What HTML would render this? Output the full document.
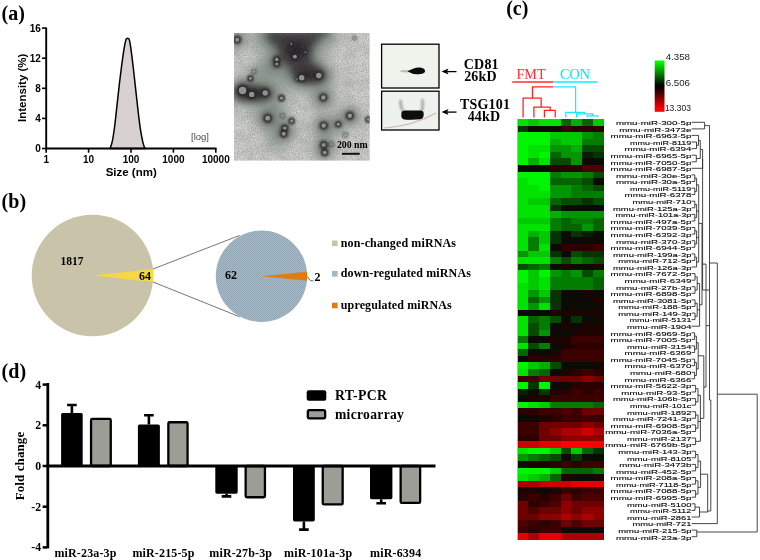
<!DOCTYPE html>
<html lang="en"><head><meta charset="utf-8"><title>Figure</title>
<style>html,body{margin:0;padding:0;background:#fff;}body{width:760px;height:560px;overflow:hidden;}svg{display:block;}.sb{font-family:"Liberation Serif", "DejaVu Serif", serif;font-weight:bold;}.ss{font-family:"Liberation Sans", "DejaVu Sans", sans-serif;font-weight:bold;}.sr{font-family:"Liberation Serif", "DejaVu Serif", serif;}.sn{font-family:"Liberation Sans", "DejaVu Sans", sans-serif;}</style>
</head><body>
<svg width="760" height="560" viewBox="0 0 760 560">
<defs>
<filter id="b8" x="-50%" y="-50%" width="200%" height="200%"><feGaussianBlur stdDeviation="7"/></filter>
<filter id="b4" x="-50%" y="-50%" width="200%" height="200%"><feGaussianBlur stdDeviation="4"/></filter>
<filter id="b2" x="-50%" y="-50%" width="200%" height="200%"><feGaussianBlur stdDeviation="1.6"/></filter>
<filter id="b15" x="-50%" y="-50%" width="200%" height="200%"><feGaussianBlur stdDeviation="1.1"/></filter>
<filter id="b1" x="-50%" y="-50%" width="200%" height="200%"><feGaussianBlur stdDeviation="0.7"/></filter>
<filter id="b05" x="-50%" y="-50%" width="200%" height="200%"><feGaussianBlur stdDeviation="0.55"/></filter>
<filter id="noise" x="0" y="0" width="100%" height="100%"><feTurbulence type="fractalNoise" baseFrequency="0.8" numOctaves="2" seed="3" result="n"/><feColorMatrix type="matrix" values="0 0 0 0 0.25  0 0 0 0 0.25  0 0 0 0 0.25  2.2 0 0 0 -0.75"/></filter>
<filter id="noise2" x="0" y="0" width="100%" height="100%"><feTurbulence type="fractalNoise" baseFrequency="0.09" numOctaves="3" seed="8" result="n"/><feColorMatrix type="matrix" values="0 0 0 0 0.35  0 0 0 0 0.38  0 0 0 0 0.35  1.6 0 0 0 -0.62"/></filter>
<clipPath id="temclip"><rect x="234" y="33" width="135.6" height="127.5"/></clipPath>
<clipPath id="wb1"><rect x="381" y="44" width="58" height="44"/></clipPath>
<clipPath id="wb2"><rect x="381" y="91" width="58" height="39"/></clipPath>
<linearGradient id="scale" x1="0" y1="0" x2="0" y2="1"><stop offset="0" stop-color="#00ff00"/><stop offset="0.05" stop-color="#00f200"/><stop offset="0.47" stop-color="#000800"/><stop offset="0.52" stop-color="#080000"/><stop offset="0.93" stop-color="#f80000"/><stop offset="1" stop-color="#ff0000"/></linearGradient>
<pattern id="dots" width="2" height="2" patternUnits="userSpaceOnUse"><rect width="2" height="2" fill="#a3b7c4"/><rect width="1" height="1" fill="#93a9b8"/><rect x="1" y="1" width="1" height="1" fill="#93a9b8"/></pattern>
</defs>
<rect width="760" height="560" fill="#ffffff"/>
<text class="sb" x="1.6" y="20.3" font-size="20">(a)</text>
<text class="sb" x="1.6" y="207.6" font-size="20">(b)</text>
<text class="sb" x="506.2" y="15.3" font-size="20">(c)</text>
<text class="sb" x="1.6" y="378.3" font-size="20">(d)</text>
<g id="pa">
<path d="M110.08 148.51 C110.47 147.23 111.63 144.64 112.40 140.85 C113.17 137.06 113.95 131.76 114.72 125.77 C115.49 119.77 116.27 111.85 117.04 104.89 C117.82 97.93 118.59 90.58 119.36 84.00 C120.14 77.43 120.91 71.24 121.68 65.44 C122.46 59.64 123.31 53.46 124.00 49.20 C124.70 44.95 125.39 41.70 125.86 39.92 C126.32 38.14 126.40 38.76 126.79 38.53 C127.17 38.30 127.75 38.30 128.18 38.53 C128.60 38.76 128.87 38.14 129.34 39.92 C129.80 41.70 130.31 44.56 130.96 49.20 C131.62 53.84 132.51 61.19 133.28 67.76 C134.06 74.34 134.83 81.68 135.60 88.65 C136.38 95.61 137.15 102.95 137.92 109.53 C138.70 116.10 139.47 122.87 140.24 128.09 C141.02 133.31 141.91 137.76 142.56 140.85 C143.22 143.94 143.69 145.37 144.19 146.65 C144.69 147.93 145.35 148.20 145.58 148.51 Z" fill="#d9d0d0" stroke="#000" stroke-width="1.5" stroke-linejoin="round"/>
<path d="M46.2 27.4 V148.5 H216.6" fill="none" stroke="#000" stroke-width="1.9"/>
<line x1="42.0" x2="46.2" y1="148.50" y2="148.50" stroke="#000" stroke-width="1.6"/>
<text class="ss" x="40.9" y="152.10" font-size="10" text-anchor="end">0</text>
<line x1="42.0" x2="46.2" y1="118.40" y2="118.40" stroke="#000" stroke-width="1.6"/>
<text class="ss" x="40.9" y="122.00" font-size="10" text-anchor="end">4</text>
<line x1="42.0" x2="46.2" y1="88.30" y2="88.30" stroke="#000" stroke-width="1.6"/>
<text class="ss" x="40.9" y="91.90" font-size="10" text-anchor="end">8</text>
<line x1="42.0" x2="46.2" y1="58.20" y2="58.20" stroke="#000" stroke-width="1.6"/>
<text class="ss" x="40.9" y="61.80" font-size="10" text-anchor="end">12</text>
<line x1="42.0" x2="46.2" y1="28.10" y2="28.10" stroke="#000" stroke-width="1.6"/>
<text class="ss" x="40.9" y="31.70" font-size="10" text-anchor="end">16</text>
<line x1="46.20" x2="46.20" y1="148.5" y2="152.7" stroke="#000" stroke-width="1.6"/>
<text class="ss" x="46.20" y="163.0" font-size="10" text-anchor="middle">1</text>
<line x1="88.60" x2="88.60" y1="148.5" y2="152.7" stroke="#000" stroke-width="1.6"/>
<text class="ss" x="88.60" y="163.0" font-size="10" text-anchor="middle">10</text>
<line x1="131.00" x2="131.00" y1="148.5" y2="152.7" stroke="#000" stroke-width="1.6"/>
<text class="ss" x="131.00" y="163.0" font-size="10" text-anchor="middle">100</text>
<line x1="173.40" x2="173.40" y1="148.5" y2="152.7" stroke="#000" stroke-width="1.6"/>
<text class="ss" x="173.40" y="163.0" font-size="10" text-anchor="middle">1000</text>
<line x1="215.80" x2="215.80" y1="148.5" y2="152.7" stroke="#000" stroke-width="1.6"/>
<text class="ss" x="215.80" y="163.0" font-size="10" text-anchor="middle">10000</text>
<text class="ss" x="131.2" y="176.2" font-size="11.5" text-anchor="middle">Size (nm)</text>
<text class="ss" transform="translate(25.6 87.8) rotate(-90)" font-size="11.5" text-anchor="middle">Intensity (%)</text>
<text class="sn" x="200" y="140" font-size="9.5" text-anchor="middle" fill="#4a4a4a">[log]</text>
</g>
<g id="tem" clip-path="url(#temclip)">
<rect x="234" y="33" width="136" height="128" fill="#d6d6d4"/>
<g filter="url(#b8)" fill="#7f9083" opacity="0.9">
<ellipse cx="294" cy="38" rx="44" ry="16"/>
<ellipse cx="294" cy="58" rx="30" ry="20"/>
<ellipse cx="306" cy="76" rx="30" ry="15"/>
<ellipse cx="277" cy="62" rx="14" ry="13"/>
<ellipse cx="253" cy="92" rx="30" ry="14"/>
<ellipse cx="237" cy="40" rx="9" ry="9"/>
<ellipse cx="320" cy="33" rx="16" ry="7"/>
<ellipse cx="268" cy="118" rx="14" ry="13"/>
<ellipse cx="284" cy="130" rx="12" ry="14"/>
<ellipse cx="323" cy="98" rx="12" ry="11"/>
<ellipse cx="324" cy="126" rx="11" ry="11"/>
<ellipse cx="350" cy="116" rx="11" ry="10"/>
<ellipse cx="338" cy="124" rx="8" ry="8"/>
<ellipse cx="324" cy="148" rx="10" ry="14"/>
<ellipse cx="274" cy="105" rx="12" ry="12"/>
<ellipse cx="262" cy="72" rx="14" ry="10"/>
<ellipse cx="275" cy="140" rx="8" ry="10"/>
</g>
<rect x="234" y="33" width="136" height="128" filter="url(#noise2)" opacity="0.5"/>
<rect x="234" y="33" width="136" height="128" filter="url(#noise)" opacity="0.4"/>
<g filter="url(#b4)" fill="#383336" opacity="0.93">
<path d="M263.0 30.6 L326.4 30.6 L317.4 41.6 L311.9 48.9 L310.1 58.1 L317.4 65.4 L324.6 70.9 L326.4 76.4 L321.0 81.9 L304.7 82.8 L295.6 81.0 L290.2 72.7 L286.5 65.4 L282.0 58.1 L277.5 48.9 L268.4 41.6 Z"/>
<ellipse cx="277" cy="62" rx="5.5" ry="6.5"/>
<ellipse cx="254" cy="93.5" rx="20" ry="7"/>
<ellipse cx="243" cy="91" rx="9" ry="8"/>
<ellipse cx="320" cy="32" rx="11" ry="4"/>
<ellipse cx="237" cy="39" rx="4.5" ry="4.5"/>
<ellipse cx="268" cy="118" rx="5.5" ry="5.5"/>
<ellipse cx="284" cy="131" rx="4.5" ry="6.5"/>
<ellipse cx="323" cy="98" rx="4.5" ry="4.5"/>
<ellipse cx="324" cy="126" rx="4.5" ry="4.5"/>
<ellipse cx="350" cy="116" rx="4.5" ry="4.5"/>
<ellipse cx="324" cy="148" rx="3.5" ry="6.5"/>
<ellipse cx="338" cy="124" rx="3" ry="3"/>
</g>
<g filter="url(#b4)" fill="#1d191b" opacity="0.8"><ellipse cx="310" cy="76" rx="14" ry="5"/><ellipse cx="252" cy="93.5" rx="16" ry="5"/><ellipse cx="296" cy="50" rx="12" ry="8"/></g>
<rect x="234" y="33" width="136" height="128" filter="url(#noise)" opacity="0.2"/>
<g filter="url(#b15)">
<circle cx="237.2" cy="39.8" r="4.07" fill="#2a2628" opacity="0.85"/>
<circle cx="276.8" cy="59.5" r="3.81" fill="#2a2628" opacity="0.85"/>
<circle cx="276.8" cy="64.1" r="3.55" fill="#2a2628" opacity="0.85"/>
<circle cx="294.9" cy="56.6" r="4.07" fill="#2a2628" opacity="0.85"/>
<circle cx="291.3" cy="43.7" r="2.91" fill="#2a2628" opacity="0.40"/>
<circle cx="301.7" cy="77.8" r="4.85" fill="#2a2628" opacity="0.85"/>
<circle cx="318.8" cy="75.5" r="4.85" fill="#2a2628" opacity="0.85"/>
<circle cx="254.0" cy="71.6" r="3.17" fill="#2a2628" opacity="0.40"/>
<circle cx="250.4" cy="78.4" r="3.42" fill="#2a2628" opacity="0.85"/>
<circle cx="242.6" cy="90.5" r="5.89" fill="#2a2628" opacity="0.85"/>
<circle cx="251.7" cy="94.4" r="4.85" fill="#2a2628" opacity="0.85"/>
<circle cx="265.2" cy="92.9" r="4.85" fill="#2a2628" opacity="0.85"/>
<circle cx="281.5" cy="98.1" r="3.81" fill="#2a2628" opacity="0.85"/>
<circle cx="323.4" cy="97.5" r="4.33" fill="#2a2628" opacity="0.85"/>
<circle cx="267.7" cy="118.3" r="4.59" fill="#2a2628" opacity="0.85"/>
<circle cx="282.5" cy="115.7" r="3.17" fill="#2a2628" opacity="0.40"/>
<circle cx="291.6" cy="120.9" r="3.55" fill="#2a2628" opacity="0.85"/>
<circle cx="284.8" cy="128.1" r="3.81" fill="#2a2628" opacity="0.85"/>
<circle cx="283.8" cy="133.8" r="4.07" fill="#2a2628" opacity="0.85"/>
<circle cx="349.9" cy="115.7" r="4.33" fill="#2a2628" opacity="0.85"/>
<circle cx="323.7" cy="125.5" r="4.33" fill="#2a2628" opacity="0.85"/>
<circle cx="338.2" cy="124.2" r="3.55" fill="#2a2628" opacity="0.85"/>
<circle cx="345.5" cy="135.1" r="3.30" fill="#2a2628" opacity="0.40"/>
<circle cx="323.7" cy="144.9" r="4.07" fill="#2a2628" opacity="0.85"/>
<circle cx="324.7" cy="152.5" r="3.94" fill="#2a2628" opacity="0.85"/>
<circle cx="331.2" cy="144.2" r="3.17" fill="#2a2628" opacity="0.40"/>
<circle cx="368.3" cy="119.6" r="3.55" fill="#2a2628" opacity="0.85"/>
<circle cx="305.3" cy="52.2" r="2.78" fill="#2a2628" opacity="0.40"/>
<circle cx="297.0" cy="78.9" r="2.78" fill="#2a2628" opacity="0.40"/>
<circle cx="354.5" cy="38.0" r="3.04" fill="#2a2628" opacity="0.40"/>
</g>
<g filter="url(#b05)">
<circle cx="237.2" cy="39.8" r="1.97" fill="#a4b0a5" opacity="0.8"/>
<circle cx="276.8" cy="59.5" r="1.72" fill="#a4b0a5" opacity="0.8"/>
<circle cx="276.8" cy="64.1" r="1.48" fill="#a4b0a5" opacity="0.8"/>
<circle cx="294.9" cy="56.6" r="1.97" fill="#a4b0a5" opacity="0.8"/>
<circle cx="291.3" cy="43.7" r="0.86" fill="#a4b0a5" opacity="0.8"/>
<circle cx="301.7" cy="77.8" r="2.71" fill="#a4b0a5" opacity="0.8"/>
<circle cx="318.8" cy="75.5" r="2.71" fill="#a4b0a5" opacity="0.8"/>
<circle cx="254.0" cy="71.6" r="1.11" fill="#a4b0a5" opacity="0.8"/>
<circle cx="250.4" cy="78.4" r="1.35" fill="#a4b0a5" opacity="0.8"/>
<circle cx="242.6" cy="90.5" r="3.69" fill="#a4b0a5" opacity="0.8"/>
<circle cx="251.7" cy="94.4" r="2.71" fill="#a4b0a5" opacity="0.8"/>
<circle cx="265.2" cy="92.9" r="2.71" fill="#a4b0a5" opacity="0.8"/>
<circle cx="281.5" cy="98.1" r="1.72" fill="#a4b0a5" opacity="0.8"/>
<circle cx="323.4" cy="97.5" r="2.22" fill="#a4b0a5" opacity="0.8"/>
<circle cx="267.7" cy="118.3" r="2.46" fill="#a4b0a5" opacity="0.8"/>
<circle cx="282.5" cy="115.7" r="1.11" fill="#a4b0a5" opacity="0.8"/>
<circle cx="291.6" cy="120.9" r="1.48" fill="#a4b0a5" opacity="0.8"/>
<circle cx="284.8" cy="128.1" r="1.72" fill="#a4b0a5" opacity="0.8"/>
<circle cx="283.8" cy="133.8" r="1.97" fill="#a4b0a5" opacity="0.8"/>
<circle cx="349.9" cy="115.7" r="2.22" fill="#a4b0a5" opacity="0.8"/>
<circle cx="323.7" cy="125.5" r="2.22" fill="#a4b0a5" opacity="0.8"/>
<circle cx="338.2" cy="124.2" r="1.48" fill="#a4b0a5" opacity="0.8"/>
<circle cx="345.5" cy="135.1" r="1.23" fill="#a4b0a5" opacity="0.8"/>
<circle cx="323.7" cy="144.9" r="1.97" fill="#a4b0a5" opacity="0.8"/>
<circle cx="324.7" cy="152.5" r="1.85" fill="#a4b0a5" opacity="0.8"/>
<circle cx="331.2" cy="144.2" r="1.11" fill="#a4b0a5" opacity="0.8"/>
<circle cx="368.3" cy="119.6" r="1.48" fill="#a4b0a5" opacity="0.8"/>
<circle cx="305.3" cy="52.2" r="0.74" fill="#a4b0a5" opacity="0.8"/>
<circle cx="297.0" cy="78.9" r="0.74" fill="#a4b0a5" opacity="0.8"/>
<circle cx="354.5" cy="38.0" r="0.98" fill="#a4b0a5" opacity="0.8"/>
</g>
</g>
<text class="sb" x="352.3" y="148" font-size="9.8" text-anchor="middle">200 nm</text>
<rect x="342" y="152.8" width="17.7" height="2" fill="#111"/>
<g id="wb">
<rect x="381" y="44" width="58" height="44" fill="#eef3ec"/>
<rect x="381" y="91" width="58" height="39" fill="#eef2ec"/>
<g clip-path="url(#wb1)">
<ellipse cx="406" cy="71.2" rx="6" ry="1.3" fill="#a08c8c" filter="url(#b1)" opacity="0.55"/>
<path d="M407.5 71.2 C411 69.3 415 67.3 419.5 67.4 C424 67.6 425.5 70 425 71.6 C424.5 73.8 420 74.6 416.5 74.3 C412.5 73.9 410 72.7 407.5 71.2 Z" fill="#0a0a0a" filter="url(#b1)"/>
</g>
<g clip-path="url(#wb2)">
<path d="M384 128 C400 127 420 122 436 113" stroke="#c9a8aa" stroke-width="1.2" fill="none" filter="url(#b1)" opacity="0.8"/>
<path d="M400.5 100 C400.5 106 402 110 404 112 M422.5 99 C423 106 422.5 110 421 112" stroke="#8a8a8a" stroke-width="2.8" fill="none" filter="url(#b15)" opacity="0.7"/>
<path d="M401.5 113 C401.5 110.5 405 110.3 412 110.6 C418 110.6 423 109.5 423.5 112.5 C424 116 423.5 119 420 119.3 C414 119.8 407 120 403.5 119.2 C401 118.5 401.3 115.5 401.5 113 Z" fill="#070707" filter="url(#b1)"/>
</g>
<rect x="381.6" y="44.2" width="57.4" height="43.8" fill="none" stroke="#000" stroke-width="1.3"/>
<rect x="381.6" y="91.2" width="57.4" height="38.8" fill="none" stroke="#000" stroke-width="1.3"/>
<path d="M456.5 71.6 H446" stroke="#000" stroke-width="1.3" fill="none"/>
<path d="M441.5 71.6 L448.5 68.6 L447 71.6 L448.5 74.6 Z" fill="#000"/>
<path d="M456.5 112.1 H446" stroke="#000" stroke-width="1.3" fill="none"/>
<path d="M441.5 112.1 L448.5 109.1 L447 112.1 L448.5 115.1 Z" fill="#000"/>
<text class="sb" x="481.3" y="68.5" font-size="14" text-anchor="middle" letter-spacing="0.2">CD81</text>
<text class="sb" x="480.5" y="81.2" font-size="14" text-anchor="middle" letter-spacing="0.2">26kD</text>
<text class="sb" x="485" y="109" font-size="14" text-anchor="middle" letter-spacing="0.2">TSG101</text>
<text class="sb" x="484" y="120.6" font-size="14" text-anchor="middle" letter-spacing="0.2">44kD</text>
</g>
<g id="pb">
<circle cx="92.5" cy="275.5" r="60.8" fill="#c8c3a9"/>
<path d="M92.5 275.5 L152.96 269.04 A60.8 60.8 0 0 1 152.96 281.96 Z" fill="#f6d842"/>
<path d="M152.96 269.04 L239.7 235.4 M152.96 281.96 L239.7 316.8" stroke="#666" stroke-width="0.9" fill="none"/>
<circle cx="261.5" cy="276.2" r="45.7" fill="url(#dots)"/>
<path d="M261.5 276.2 L306.98 271.74 A45.7 45.7 0 0 1 306.98 280.66 Z" fill="#e07c12"/>
<path d="M307.4 276.6 L310.5 280.8 H313.5" stroke="#444" stroke-width="0.8" fill="none"/>
<text class="sb" x="72" y="265" font-size="11.5" text-anchor="middle">1817</text>
<text class="sb" x="145" y="280" font-size="12" text-anchor="middle">64</text>
<text class="sb" x="231" y="279" font-size="12" text-anchor="middle">62</text>
<text class="sb" x="317.5" y="281" font-size="12" text-anchor="middle">2</text>
<rect x="332" y="240.5" width="5.6" height="5.6" fill="#c8c3a9"/>
<text class="sb" x="340.8" y="246.9" font-size="12" letter-spacing="0.13">non-changed miRNAs</text>
<rect x="332" y="271.0" width="5.6" height="5.6" fill="#a3b7c4"/>
<text class="sb" x="340.8" y="277.4" font-size="12" letter-spacing="0.13">down-regulated miRNAs</text>
<rect x="332" y="302.7" width="5.6" height="5.6" fill="#e07c12"/>
<text class="sb" x="340.8" y="309.1" font-size="12" letter-spacing="0.13">upregulated miRNAs</text>
</g>
<g id="pd">
<path d="M71.9 412.9 V405.0 M67.1 405.0 H76.7" stroke="#000" stroke-width="2.6" fill="none"/>
<rect x="61.1" y="412.9" width="21.6" height="53.1" fill="#000" rx="1.6"/>
<rect x="91.05" y="418.95" width="19.70" height="47.05" fill="#9d9d95" stroke="#000" stroke-width="2.3" rx="1.2"/>
<path d="M148.9 424.6 V415.2 M144.1 415.2 H153.7" stroke="#000" stroke-width="2.6" fill="none"/>
<rect x="137.9" y="424.6" width="22.0" height="41.4" fill="#000" rx="1.6"/>
<rect x="168.35" y="422.25" width="19.20" height="43.75" fill="#9d9d95" stroke="#000" stroke-width="2.3" rx="1.2"/>
<path d="M226.5 493.7 V496.4 M221.7 496.4 H231.3" stroke="#000" stroke-width="2.6" fill="none"/>
<rect x="215.3" y="466.0" width="22.4" height="27.7" fill="#000" rx="1.6"/>
<rect x="245.65" y="466.00" width="19.30" height="31.25" fill="#9d9d95" stroke="#000" stroke-width="2.3" rx="1.2"/>
<path d="M303.9 521.4 V529.6 M299.1 529.6 H308.7" stroke="#000" stroke-width="2.6" fill="none"/>
<rect x="293.0" y="466.0" width="21.8" height="55.4" fill="#000" rx="1.6"/>
<rect x="322.75" y="466.00" width="19.90" height="38.45" fill="#9d9d95" stroke="#000" stroke-width="2.3" rx="1.2"/>
<path d="M381.2 499.2 V503.2 M376.4 503.2 H386.0" stroke="#000" stroke-width="2.6" fill="none"/>
<rect x="370.0" y="466.0" width="22.4" height="33.2" fill="#000" rx="1.6"/>
<rect x="400.65" y="466.00" width="19.50" height="36.85" fill="#9d9d95" stroke="#000" stroke-width="2.3" rx="1.2"/>
<path d="M47.8 383.0 V548.4" stroke="#000" stroke-width="2.8" fill="none"/>
<path d="M46.4 466.0 H435.5" stroke="#000" stroke-width="2.8" fill="none"/>
<line x1="42.6" x2="47.0" y1="384.6" y2="384.6" stroke="#000" stroke-width="2.5"/>
<text class="sb" x="41.2" y="388.5" font-size="11.8" text-anchor="end">4</text>
<line x1="42.6" x2="47.0" y1="425.3" y2="425.3" stroke="#000" stroke-width="2.5"/>
<text class="sb" x="41.2" y="429.2" font-size="11.8" text-anchor="end">2</text>
<line x1="42.6" x2="47.0" y1="466.0" y2="466.0" stroke="#000" stroke-width="2.5"/>
<text class="sb" x="41.2" y="469.9" font-size="11.8" text-anchor="end">0</text>
<line x1="42.6" x2="47.0" y1="506.7" y2="506.7" stroke="#000" stroke-width="2.5"/>
<text class="sb" x="41.2" y="510.6" font-size="11.8" text-anchor="end">-2</text>
<line x1="42.6" x2="47.0" y1="547.4" y2="547.4" stroke="#000" stroke-width="2.5"/>
<text class="sb" x="41.2" y="551.3" font-size="11.8" text-anchor="end">-4</text>
<text class="sb" transform="translate(23.7 466) rotate(-90)" font-size="13" text-anchor="middle" letter-spacing="0.1">Fold change</text>
<text class="sb" x="85.5" y="557" font-size="12" text-anchor="middle" letter-spacing="0.15">miR-23a-3p</text>
<text class="sb" x="163.5" y="557" font-size="12" text-anchor="middle" letter-spacing="0.15">miR-215-5p</text>
<text class="sb" x="240.7" y="557" font-size="12" text-anchor="middle" letter-spacing="0.15">miR-27b-3p</text>
<text class="sb" x="318.2" y="557" font-size="12" text-anchor="middle" letter-spacing="0.15">miR-101a-3p</text>
<text class="sb" x="395.7" y="557" font-size="12" text-anchor="middle" letter-spacing="0.15">miR-6394</text>
<rect x="306.7" y="390.2" width="19.6" height="10.6" fill="#000" rx="2"/>
<rect x="307.85" y="410.15" width="17.3" height="8.2" fill="#9d9d95" stroke="#000" stroke-width="2.3" rx="1.5"/>
<text class="sb" x="335" y="400.2" font-size="13.8" letter-spacing="0.3">RT-PCR</text>
<text class="sb" x="335" y="418.6" font-size="13.6" letter-spacing="0.3">microarray</text>
</g>
<g id="pc">
<text class="sr" x="531" y="78.6" font-size="14.2" text-anchor="middle" fill="#ff2d2d">FMT</text>
<text class="sr" x="575" y="78.6" font-size="14.2" text-anchor="middle" fill="#00e5ff">CON</text>
<path d="M512.2 82 H553" stroke="#ff2d2d" stroke-width="1.5"/>
<path d="M553 82 H597.6" stroke="#19e8ff" stroke-width="1.5"/>
<path d="M553 86.9 H532.5 V98.1 M523.1 117.4 V98.1 H541.2 V107 M533.9 117.4 V107 H550.2 V110.4 M544.4 117.4 V110.4 H555.2 V117.4" stroke="#ff2020" stroke-width="1.25" fill="none"/>
<path d="M553 86.9 H575.6 V112.4 M565.8 117.4 V112.4 H584.6 V113.8 M576.6 117.4 V113.8 H592.6 V115.9 M587.2 117.4 V115.9 H597.6 V117.4" stroke="#19e8ff" stroke-width="1.25" fill="none"/>
<rect x="654.7" y="60.5" width="9.8" height="51.3" fill="url(#scale)"/>
<text class="sn" x="665.7" y="60.3" font-size="8.6" textLength="24.3" lengthAdjust="spacingAndGlyphs" fill="#222">4.358</text>
<text class="sn" x="665.7" y="86.1" font-size="8.6" textLength="24.3" lengthAdjust="spacingAndGlyphs" fill="#222">6.506</text>
<text class="sn" x="664.9" y="111.1" font-size="8.6" textLength="26" lengthAdjust="spacingAndGlyphs" fill="#222">13.303</text>
<rect x="517.7" y="119.0" width="85.6" height="421.0" fill="#0b0a04"/>
<g shape-rendering="crispEdges">
<rect x="517.70" y="119.00" width="11.00" height="6.88" fill="#00e200"/>
<rect x="528.40" y="119.00" width="11.00" height="6.88" fill="#00ca00"/>
<rect x="539.10" y="119.00" width="21.70" height="6.88" fill="#00e200"/>
<rect x="560.50" y="119.00" width="11.00" height="6.88" fill="#046400"/>
<rect x="571.20" y="119.00" width="11.00" height="6.88" fill="#01b000"/>
<rect x="581.90" y="119.00" width="11.00" height="6.88" fill="#046400"/>
<rect x="592.60" y="119.00" width="11.00" height="6.88" fill="#00ca00"/>
<rect x="517.70" y="125.58" width="11.00" height="6.88" fill="#063400"/>
<rect x="528.40" y="125.58" width="32.40" height="6.88" fill="#0b0a04"/>
<rect x="560.50" y="125.58" width="11.00" height="6.88" fill="#3c0000"/>
<rect x="571.20" y="125.58" width="32.40" height="6.88" fill="#2c0000"/>
<rect x="517.70" y="132.16" width="32.40" height="6.88" fill="#00f600"/>
<rect x="549.80" y="132.16" width="32.40" height="6.88" fill="#00ca00"/>
<rect x="581.90" y="132.16" width="11.00" height="6.88" fill="#029600"/>
<rect x="592.60" y="132.16" width="11.00" height="6.88" fill="#037d00"/>
<rect x="517.70" y="138.73" width="32.40" height="6.88" fill="#00f600"/>
<rect x="549.80" y="138.73" width="11.00" height="6.88" fill="#01b000"/>
<rect x="560.50" y="138.73" width="21.70" height="6.88" fill="#00ca00"/>
<rect x="581.90" y="138.73" width="21.70" height="6.88" fill="#037d00"/>
<rect x="517.70" y="145.31" width="11.00" height="6.88" fill="#00f600"/>
<rect x="528.40" y="145.31" width="21.70" height="6.88" fill="#00e200"/>
<rect x="549.80" y="145.31" width="21.70" height="6.88" fill="#029600"/>
<rect x="571.20" y="145.31" width="11.00" height="6.88" fill="#01b000"/>
<rect x="581.90" y="145.31" width="21.70" height="6.88" fill="#054c00"/>
<rect x="517.70" y="151.89" width="11.00" height="6.88" fill="#00f600"/>
<rect x="528.40" y="151.89" width="11.00" height="6.88" fill="#00e200"/>
<rect x="539.10" y="151.89" width="11.00" height="6.88" fill="#00f600"/>
<rect x="549.80" y="151.89" width="11.00" height="6.88" fill="#046400"/>
<rect x="560.50" y="151.89" width="21.70" height="6.88" fill="#029600"/>
<rect x="581.90" y="151.89" width="11.00" height="6.88" fill="#071e00"/>
<rect x="592.60" y="151.89" width="11.00" height="6.88" fill="#063400"/>
<rect x="517.70" y="158.47" width="11.00" height="6.88" fill="#00f600"/>
<rect x="528.40" y="158.47" width="11.00" height="6.88" fill="#01b000"/>
<rect x="539.10" y="158.47" width="11.00" height="6.88" fill="#00e200"/>
<rect x="549.80" y="158.47" width="21.70" height="6.88" fill="#054c00"/>
<rect x="571.20" y="158.47" width="11.00" height="6.88" fill="#029600"/>
<rect x="581.90" y="158.47" width="21.70" height="6.88" fill="#0b0a04"/>
<rect x="517.70" y="165.05" width="32.40" height="6.88" fill="#0b0a04"/>
<rect x="549.80" y="165.05" width="32.40" height="6.88" fill="#2c0000"/>
<rect x="581.90" y="165.05" width="21.70" height="6.88" fill="#4e0000"/>
<rect x="517.70" y="171.62" width="32.40" height="6.88" fill="#00f600"/>
<rect x="549.80" y="171.62" width="11.00" height="6.88" fill="#037d00"/>
<rect x="560.50" y="171.62" width="21.70" height="6.88" fill="#029600"/>
<rect x="581.90" y="171.62" width="11.00" height="6.88" fill="#037d00"/>
<rect x="592.60" y="171.62" width="11.00" height="6.88" fill="#054c00"/>
<rect x="517.70" y="178.20" width="11.00" height="6.88" fill="#00e200"/>
<rect x="528.40" y="178.20" width="21.70" height="6.88" fill="#00f600"/>
<rect x="549.80" y="178.20" width="32.40" height="6.88" fill="#046400"/>
<rect x="581.90" y="178.20" width="11.00" height="6.88" fill="#054c00"/>
<rect x="592.60" y="178.20" width="11.00" height="6.88" fill="#0b0a04"/>
<rect x="517.70" y="184.78" width="21.70" height="6.88" fill="#00e200"/>
<rect x="539.10" y="184.78" width="11.00" height="6.88" fill="#00f600"/>
<rect x="549.80" y="184.78" width="21.70" height="6.88" fill="#029600"/>
<rect x="571.20" y="184.78" width="11.00" height="6.88" fill="#037d00"/>
<rect x="581.90" y="184.78" width="11.00" height="6.88" fill="#046400"/>
<rect x="592.60" y="184.78" width="11.00" height="6.88" fill="#054c00"/>
<rect x="517.70" y="191.36" width="32.40" height="6.88" fill="#00e200"/>
<rect x="549.80" y="191.36" width="21.70" height="6.88" fill="#029600"/>
<rect x="571.20" y="191.36" width="32.40" height="6.88" fill="#037d00"/>
<rect x="517.70" y="197.94" width="11.00" height="6.88" fill="#00e200"/>
<rect x="528.40" y="197.94" width="21.70" height="6.88" fill="#00ca00"/>
<rect x="549.80" y="197.94" width="11.00" height="6.88" fill="#046400"/>
<rect x="560.50" y="197.94" width="21.70" height="6.88" fill="#054c00"/>
<rect x="581.90" y="197.94" width="11.00" height="6.88" fill="#063400"/>
<rect x="592.60" y="197.94" width="11.00" height="6.88" fill="#054c00"/>
<rect x="517.70" y="204.52" width="32.40" height="6.88" fill="#00e200"/>
<rect x="549.80" y="204.52" width="11.00" height="6.88" fill="#063400"/>
<rect x="560.50" y="204.52" width="43.10" height="6.88" fill="#0b0a04"/>
<rect x="517.70" y="211.09" width="32.40" height="6.88" fill="#00e200"/>
<rect x="549.80" y="211.09" width="11.00" height="6.88" fill="#01b000"/>
<rect x="560.50" y="211.09" width="43.10" height="6.88" fill="#029600"/>
<rect x="517.70" y="217.67" width="32.40" height="6.88" fill="#00ca00"/>
<rect x="549.80" y="217.67" width="11.00" height="6.88" fill="#037d00"/>
<rect x="560.50" y="217.67" width="11.00" height="6.88" fill="#046400"/>
<rect x="571.20" y="217.67" width="21.70" height="6.88" fill="#037d00"/>
<rect x="592.60" y="217.67" width="11.00" height="6.88" fill="#046400"/>
<rect x="517.70" y="224.25" width="32.40" height="6.88" fill="#00e200"/>
<rect x="549.80" y="224.25" width="11.00" height="6.88" fill="#037d00"/>
<rect x="560.50" y="224.25" width="21.70" height="6.88" fill="#046400"/>
<rect x="581.90" y="224.25" width="11.00" height="6.88" fill="#029600"/>
<rect x="592.60" y="224.25" width="11.00" height="6.88" fill="#046400"/>
<rect x="517.70" y="230.83" width="11.00" height="6.88" fill="#00e200"/>
<rect x="528.40" y="230.83" width="11.00" height="6.88" fill="#01b000"/>
<rect x="539.10" y="230.83" width="11.00" height="6.88" fill="#00ca00"/>
<rect x="549.80" y="230.83" width="11.00" height="6.88" fill="#063400"/>
<rect x="560.50" y="230.83" width="11.00" height="6.88" fill="#0b0a04"/>
<rect x="571.20" y="230.83" width="11.00" height="6.88" fill="#063400"/>
<rect x="581.90" y="230.83" width="11.00" height="6.88" fill="#071e00"/>
<rect x="592.60" y="230.83" width="11.00" height="6.88" fill="#0b0a04"/>
<rect x="517.70" y="237.41" width="11.00" height="6.88" fill="#00e200"/>
<rect x="528.40" y="237.41" width="11.00" height="6.88" fill="#037d00"/>
<rect x="539.10" y="237.41" width="11.00" height="6.88" fill="#00ca00"/>
<rect x="549.80" y="237.41" width="11.00" height="6.88" fill="#063400"/>
<rect x="560.50" y="237.41" width="43.10" height="6.88" fill="#0b0a04"/>
<rect x="517.70" y="243.98" width="11.00" height="6.88" fill="#00e200"/>
<rect x="528.40" y="243.98" width="11.00" height="6.88" fill="#037d00"/>
<rect x="539.10" y="243.98" width="11.00" height="6.88" fill="#00e200"/>
<rect x="549.80" y="243.98" width="11.00" height="6.88" fill="#0b0a04"/>
<rect x="560.50" y="243.98" width="32.40" height="6.88" fill="#2c0000"/>
<rect x="592.60" y="243.98" width="11.00" height="6.88" fill="#3c0000"/>
<rect x="517.70" y="250.56" width="11.00" height="6.88" fill="#029600"/>
<rect x="528.40" y="250.56" width="21.70" height="6.88" fill="#00ca00"/>
<rect x="549.80" y="250.56" width="11.00" height="6.88" fill="#063400"/>
<rect x="560.50" y="250.56" width="11.00" height="6.88" fill="#0b0a04"/>
<rect x="571.20" y="250.56" width="11.00" height="6.88" fill="#054c00"/>
<rect x="581.90" y="250.56" width="21.70" height="6.88" fill="#063400"/>
<rect x="517.70" y="257.14" width="32.40" height="6.88" fill="#00e200"/>
<rect x="549.80" y="257.14" width="11.00" height="6.88" fill="#037d00"/>
<rect x="560.50" y="257.14" width="11.00" height="6.88" fill="#054c00"/>
<rect x="571.20" y="257.14" width="11.00" height="6.88" fill="#037d00"/>
<rect x="581.90" y="257.14" width="11.00" height="6.88" fill="#046400"/>
<rect x="592.60" y="257.14" width="11.00" height="6.88" fill="#054c00"/>
<rect x="517.70" y="263.72" width="11.00" height="6.88" fill="#054c00"/>
<rect x="528.40" y="263.72" width="11.00" height="6.88" fill="#046400"/>
<rect x="539.10" y="263.72" width="11.00" height="6.88" fill="#037d00"/>
<rect x="549.80" y="263.72" width="11.00" height="6.88" fill="#0b0a04"/>
<rect x="560.50" y="263.72" width="11.00" height="6.88" fill="#1e0400"/>
<rect x="571.20" y="263.72" width="21.70" height="6.88" fill="#0b0a04"/>
<rect x="592.60" y="263.72" width="11.00" height="6.88" fill="#1e0400"/>
<rect x="517.70" y="270.30" width="11.00" height="6.88" fill="#00f600"/>
<rect x="528.40" y="270.30" width="11.00" height="6.88" fill="#00ca00"/>
<rect x="539.10" y="270.30" width="11.00" height="6.88" fill="#00f600"/>
<rect x="549.80" y="270.30" width="11.00" height="6.88" fill="#029600"/>
<rect x="560.50" y="270.30" width="11.00" height="6.88" fill="#037d00"/>
<rect x="571.20" y="270.30" width="11.00" height="6.88" fill="#029600"/>
<rect x="581.90" y="270.30" width="11.00" height="6.88" fill="#054c00"/>
<rect x="592.60" y="270.30" width="11.00" height="6.88" fill="#037d00"/>
<rect x="517.70" y="276.88" width="11.00" height="6.88" fill="#00f600"/>
<rect x="528.40" y="276.88" width="11.00" height="6.88" fill="#00ca00"/>
<rect x="539.10" y="276.88" width="11.00" height="6.88" fill="#00e200"/>
<rect x="549.80" y="276.88" width="43.10" height="6.88" fill="#037d00"/>
<rect x="592.60" y="276.88" width="11.00" height="6.88" fill="#046400"/>
<rect x="517.70" y="283.45" width="11.00" height="6.88" fill="#00e200"/>
<rect x="528.40" y="283.45" width="11.00" height="6.88" fill="#00ca00"/>
<rect x="539.10" y="283.45" width="11.00" height="6.88" fill="#00e200"/>
<rect x="549.80" y="283.45" width="43.10" height="6.88" fill="#037d00"/>
<rect x="592.60" y="283.45" width="11.00" height="6.88" fill="#046400"/>
<rect x="517.70" y="290.03" width="11.00" height="6.88" fill="#00e200"/>
<rect x="528.40" y="290.03" width="11.00" height="6.88" fill="#029600"/>
<rect x="539.10" y="290.03" width="11.00" height="6.88" fill="#00ca00"/>
<rect x="549.80" y="290.03" width="11.00" height="6.88" fill="#063400"/>
<rect x="560.50" y="290.03" width="21.70" height="6.88" fill="#0b0a04"/>
<rect x="581.90" y="290.03" width="11.00" height="6.88" fill="#1e0400"/>
<rect x="592.60" y="290.03" width="11.00" height="6.88" fill="#0b0a04"/>
<rect x="517.70" y="296.61" width="11.00" height="6.88" fill="#00e200"/>
<rect x="528.40" y="296.61" width="11.00" height="6.88" fill="#046400"/>
<rect x="539.10" y="296.61" width="11.00" height="6.88" fill="#029600"/>
<rect x="549.80" y="296.61" width="11.00" height="6.88" fill="#063400"/>
<rect x="560.50" y="296.61" width="32.40" height="6.88" fill="#0b0a04"/>
<rect x="592.60" y="296.61" width="11.00" height="6.88" fill="#1e0400"/>
<rect x="517.70" y="303.19" width="11.00" height="6.88" fill="#00e200"/>
<rect x="528.40" y="303.19" width="11.00" height="6.88" fill="#029600"/>
<rect x="539.10" y="303.19" width="11.00" height="6.88" fill="#00e200"/>
<rect x="549.80" y="303.19" width="11.00" height="6.88" fill="#063400"/>
<rect x="560.50" y="303.19" width="43.10" height="6.88" fill="#0b0a04"/>
<rect x="517.70" y="309.77" width="32.40" height="6.88" fill="#0b0a04"/>
<rect x="549.80" y="309.77" width="53.80" height="6.88" fill="#1e0400"/>
<rect x="517.70" y="316.34" width="11.00" height="6.88" fill="#00e200"/>
<rect x="528.40" y="316.34" width="11.00" height="6.88" fill="#046400"/>
<rect x="539.10" y="316.34" width="11.00" height="6.88" fill="#037d00"/>
<rect x="549.80" y="316.34" width="11.00" height="6.88" fill="#054c00"/>
<rect x="560.50" y="316.34" width="11.00" height="6.88" fill="#0b0a04"/>
<rect x="571.20" y="316.34" width="11.00" height="6.88" fill="#063400"/>
<rect x="581.90" y="316.34" width="21.70" height="6.88" fill="#0b0a04"/>
<rect x="517.70" y="322.92" width="11.00" height="6.88" fill="#00e200"/>
<rect x="528.40" y="322.92" width="11.00" height="6.88" fill="#054c00"/>
<rect x="539.10" y="322.92" width="11.00" height="6.88" fill="#037d00"/>
<rect x="549.80" y="322.92" width="11.00" height="6.88" fill="#0b0a04"/>
<rect x="560.50" y="322.92" width="11.00" height="6.88" fill="#1e0400"/>
<rect x="571.20" y="322.92" width="11.00" height="6.88" fill="#0b0a04"/>
<rect x="581.90" y="322.92" width="21.70" height="6.88" fill="#1e0400"/>
<rect x="517.70" y="329.50" width="11.00" height="6.88" fill="#00e200"/>
<rect x="528.40" y="329.50" width="11.00" height="6.88" fill="#054c00"/>
<rect x="539.10" y="329.50" width="11.00" height="6.88" fill="#029600"/>
<rect x="549.80" y="329.50" width="21.70" height="6.88" fill="#0b0a04"/>
<rect x="571.20" y="329.50" width="32.40" height="6.88" fill="#1e0400"/>
<rect x="517.70" y="336.08" width="11.00" height="6.88" fill="#037d00"/>
<rect x="528.40" y="336.08" width="21.70" height="6.88" fill="#0b0a04"/>
<rect x="549.80" y="336.08" width="21.70" height="6.88" fill="#1e0400"/>
<rect x="571.20" y="336.08" width="32.40" height="6.88" fill="#3c0000"/>
<rect x="517.70" y="342.66" width="11.00" height="6.88" fill="#00e200"/>
<rect x="528.40" y="342.66" width="11.00" height="6.88" fill="#054c00"/>
<rect x="539.10" y="342.66" width="11.00" height="6.88" fill="#037d00"/>
<rect x="549.80" y="342.66" width="11.00" height="6.88" fill="#0b0a04"/>
<rect x="560.50" y="342.66" width="11.00" height="6.88" fill="#1e0400"/>
<rect x="571.20" y="342.66" width="32.40" height="6.88" fill="#2c0000"/>
<rect x="517.70" y="349.23" width="11.00" height="6.88" fill="#046400"/>
<rect x="528.40" y="349.23" width="21.70" height="6.88" fill="#0b0a04"/>
<rect x="549.80" y="349.23" width="11.00" height="6.88" fill="#1e0400"/>
<rect x="560.50" y="349.23" width="43.10" height="6.88" fill="#3c0000"/>
<rect x="517.70" y="355.81" width="11.00" height="6.88" fill="#0b0a04"/>
<rect x="528.40" y="355.81" width="32.40" height="6.88" fill="#2c0000"/>
<rect x="560.50" y="355.81" width="43.10" height="6.88" fill="#3c0000"/>
<rect x="517.70" y="362.39" width="11.00" height="6.88" fill="#00f600"/>
<rect x="528.40" y="362.39" width="11.00" height="6.88" fill="#00ca00"/>
<rect x="539.10" y="362.39" width="11.00" height="6.88" fill="#01b000"/>
<rect x="549.80" y="362.39" width="11.00" height="6.88" fill="#054c00"/>
<rect x="560.50" y="362.39" width="43.10" height="6.88" fill="#0b0a04"/>
<rect x="517.70" y="368.97" width="11.00" height="6.88" fill="#00e200"/>
<rect x="528.40" y="368.97" width="11.00" height="6.88" fill="#037d00"/>
<rect x="539.10" y="368.97" width="11.00" height="6.88" fill="#046400"/>
<rect x="549.80" y="368.97" width="11.00" height="6.88" fill="#0b0a04"/>
<rect x="560.50" y="368.97" width="11.00" height="6.88" fill="#1e0400"/>
<rect x="571.20" y="368.97" width="11.00" height="6.88" fill="#2c0000"/>
<rect x="581.90" y="368.97" width="11.00" height="6.88" fill="#3c0000"/>
<rect x="592.60" y="368.97" width="11.00" height="6.88" fill="#2c0000"/>
<rect x="517.70" y="375.55" width="21.70" height="6.88" fill="#3c0000"/>
<rect x="539.10" y="375.55" width="43.10" height="6.88" fill="#6e0000"/>
<rect x="581.90" y="375.55" width="11.00" height="6.88" fill="#8e0000"/>
<rect x="592.60" y="375.55" width="11.00" height="6.88" fill="#6e0000"/>
<rect x="517.70" y="382.12" width="11.00" height="6.88" fill="#00f600"/>
<rect x="528.40" y="382.12" width="11.00" height="6.88" fill="#063400"/>
<rect x="539.10" y="382.12" width="11.00" height="6.88" fill="#00f600"/>
<rect x="549.80" y="382.12" width="21.70" height="6.88" fill="#0b0a04"/>
<rect x="571.20" y="382.12" width="32.40" height="6.88" fill="#2c0000"/>
<rect x="517.70" y="388.70" width="11.00" height="6.88" fill="#071e00"/>
<rect x="528.40" y="388.70" width="11.00" height="6.88" fill="#0b0a04"/>
<rect x="539.10" y="388.70" width="11.00" height="6.88" fill="#063400"/>
<rect x="549.80" y="388.70" width="11.00" height="6.88" fill="#1e0400"/>
<rect x="560.50" y="388.70" width="11.00" height="6.88" fill="#2c0000"/>
<rect x="571.20" y="388.70" width="11.00" height="6.88" fill="#3c0000"/>
<rect x="581.90" y="388.70" width="11.00" height="6.88" fill="#2c0000"/>
<rect x="592.60" y="388.70" width="11.00" height="6.88" fill="#3c0000"/>
<rect x="517.70" y="395.28" width="11.00" height="6.88" fill="#0b0a04"/>
<rect x="528.40" y="395.28" width="21.70" height="6.88" fill="#1e0400"/>
<rect x="549.80" y="395.28" width="53.80" height="6.88" fill="#3c0000"/>
<rect x="517.70" y="401.86" width="11.00" height="6.88" fill="#00f600"/>
<rect x="528.40" y="401.86" width="11.00" height="6.88" fill="#00e200"/>
<rect x="539.10" y="401.86" width="11.00" height="6.88" fill="#00ca00"/>
<rect x="549.80" y="401.86" width="43.10" height="6.88" fill="#037d00"/>
<rect x="592.60" y="401.86" width="11.00" height="6.88" fill="#046400"/>
<rect x="517.70" y="408.44" width="21.70" height="6.88" fill="#2c0000"/>
<rect x="539.10" y="408.44" width="21.70" height="6.88" fill="#3c0000"/>
<rect x="560.50" y="408.44" width="11.00" height="6.88" fill="#4e0000"/>
<rect x="571.20" y="408.44" width="11.00" height="6.88" fill="#3c0000"/>
<rect x="581.90" y="408.44" width="21.70" height="6.88" fill="#6e0000"/>
<rect x="517.70" y="415.02" width="21.70" height="6.88" fill="#0b0a04"/>
<rect x="539.10" y="415.02" width="11.00" height="6.88" fill="#1e0400"/>
<rect x="549.80" y="415.02" width="11.00" height="6.88" fill="#2c0000"/>
<rect x="560.50" y="415.02" width="43.10" height="6.88" fill="#3c0000"/>
<rect x="517.70" y="421.59" width="21.70" height="6.88" fill="#3c0000"/>
<rect x="539.10" y="421.59" width="43.10" height="6.88" fill="#6e0000"/>
<rect x="581.90" y="421.59" width="11.00" height="6.88" fill="#8e0000"/>
<rect x="592.60" y="421.59" width="11.00" height="6.88" fill="#6e0000"/>
<rect x="517.70" y="428.17" width="21.70" height="6.88" fill="#3c0000"/>
<rect x="539.10" y="428.17" width="11.00" height="6.88" fill="#6e0000"/>
<rect x="549.80" y="428.17" width="11.00" height="6.88" fill="#8e0000"/>
<rect x="560.50" y="428.17" width="21.70" height="6.88" fill="#ae0000"/>
<rect x="581.90" y="428.17" width="11.00" height="6.88" fill="#ce0000"/>
<rect x="592.60" y="428.17" width="11.00" height="6.88" fill="#ae0000"/>
<rect x="517.70" y="434.75" width="21.70" height="6.88" fill="#2c0000"/>
<rect x="539.10" y="434.75" width="21.70" height="6.88" fill="#6e0000"/>
<rect x="560.50" y="434.75" width="43.10" height="6.88" fill="#8e0000"/>
<rect x="517.70" y="441.33" width="21.70" height="6.88" fill="#ce0000"/>
<rect x="539.10" y="441.33" width="21.70" height="6.88" fill="#e80000"/>
<rect x="560.50" y="441.33" width="43.10" height="6.88" fill="#ff0000"/>
<rect x="517.70" y="447.91" width="11.00" height="6.88" fill="#00e200"/>
<rect x="528.40" y="447.91" width="21.70" height="6.88" fill="#00f600"/>
<rect x="549.80" y="447.91" width="11.00" height="6.88" fill="#00ca00"/>
<rect x="560.50" y="447.91" width="11.00" height="6.88" fill="#054c00"/>
<rect x="571.20" y="447.91" width="11.00" height="6.88" fill="#00ca00"/>
<rect x="581.90" y="447.91" width="11.00" height="6.88" fill="#046400"/>
<rect x="592.60" y="447.91" width="11.00" height="6.88" fill="#063400"/>
<rect x="517.70" y="454.48" width="11.00" height="6.88" fill="#029600"/>
<rect x="528.40" y="454.48" width="11.00" height="6.88" fill="#037d00"/>
<rect x="539.10" y="454.48" width="11.00" height="6.88" fill="#046400"/>
<rect x="549.80" y="454.48" width="11.00" height="6.88" fill="#054c00"/>
<rect x="560.50" y="454.48" width="11.00" height="6.88" fill="#0b0a04"/>
<rect x="571.20" y="454.48" width="11.00" height="6.88" fill="#063400"/>
<rect x="581.90" y="454.48" width="21.70" height="6.88" fill="#0b0a04"/>
<rect x="517.70" y="461.06" width="11.00" height="6.88" fill="#0b0a04"/>
<rect x="528.40" y="461.06" width="21.70" height="6.88" fill="#1e0400"/>
<rect x="549.80" y="461.06" width="11.00" height="6.88" fill="#2c0000"/>
<rect x="560.50" y="461.06" width="11.00" height="6.88" fill="#3c0000"/>
<rect x="571.20" y="461.06" width="11.00" height="6.88" fill="#2c0000"/>
<rect x="581.90" y="461.06" width="21.70" height="6.88" fill="#3c0000"/>
<rect x="517.70" y="467.64" width="32.40" height="6.88" fill="#00f600"/>
<rect x="549.80" y="467.64" width="11.00" height="6.88" fill="#00ca00"/>
<rect x="560.50" y="467.64" width="32.40" height="6.88" fill="#046400"/>
<rect x="592.60" y="467.64" width="11.00" height="6.88" fill="#037d00"/>
<rect x="517.70" y="474.22" width="11.00" height="6.88" fill="#00e200"/>
<rect x="528.40" y="474.22" width="11.00" height="6.88" fill="#00ca00"/>
<rect x="539.10" y="474.22" width="11.00" height="6.88" fill="#01b000"/>
<rect x="549.80" y="474.22" width="11.00" height="6.88" fill="#046400"/>
<rect x="560.50" y="474.22" width="11.00" height="6.88" fill="#1e0400"/>
<rect x="571.20" y="474.22" width="21.70" height="6.88" fill="#0b0a04"/>
<rect x="592.60" y="474.22" width="11.00" height="6.88" fill="#1e0400"/>
<rect x="517.70" y="480.80" width="21.70" height="6.88" fill="#ae0000"/>
<rect x="539.10" y="480.80" width="32.40" height="6.88" fill="#ce0000"/>
<rect x="571.20" y="480.80" width="32.40" height="6.88" fill="#e80000"/>
<rect x="517.70" y="487.38" width="21.70" height="6.88" fill="#1e0400"/>
<rect x="539.10" y="487.38" width="11.00" height="6.88" fill="#0b0a04"/>
<rect x="549.80" y="487.38" width="11.00" height="6.88" fill="#1e0400"/>
<rect x="560.50" y="487.38" width="11.00" height="6.88" fill="#3c0000"/>
<rect x="571.20" y="487.38" width="11.00" height="6.88" fill="#2c0000"/>
<rect x="581.90" y="487.38" width="21.70" height="6.88" fill="#3c0000"/>
<rect x="517.70" y="493.95" width="11.00" height="6.88" fill="#2c0000"/>
<rect x="528.40" y="493.95" width="11.00" height="6.88" fill="#3c0000"/>
<rect x="539.10" y="493.95" width="11.00" height="6.88" fill="#2c0000"/>
<rect x="549.80" y="493.95" width="11.00" height="6.88" fill="#3c0000"/>
<rect x="560.50" y="493.95" width="11.00" height="6.88" fill="#6e0000"/>
<rect x="571.20" y="493.95" width="11.00" height="6.88" fill="#3c0000"/>
<rect x="581.90" y="493.95" width="21.70" height="6.88" fill="#4e0000"/>
<rect x="517.70" y="500.53" width="11.00" height="6.88" fill="#6e0000"/>
<rect x="528.40" y="500.53" width="11.00" height="6.88" fill="#2c0000"/>
<rect x="539.10" y="500.53" width="11.00" height="6.88" fill="#3c0000"/>
<rect x="549.80" y="500.53" width="11.00" height="6.88" fill="#4e0000"/>
<rect x="560.50" y="500.53" width="11.00" height="6.88" fill="#8e0000"/>
<rect x="571.20" y="500.53" width="32.40" height="6.88" fill="#6e0000"/>
<rect x="517.70" y="507.11" width="11.00" height="6.88" fill="#6e0000"/>
<rect x="528.40" y="507.11" width="11.00" height="6.88" fill="#4e0000"/>
<rect x="539.10" y="507.11" width="21.70" height="6.88" fill="#6e0000"/>
<rect x="560.50" y="507.11" width="11.00" height="6.88" fill="#8e0000"/>
<rect x="571.20" y="507.11" width="11.00" height="6.88" fill="#6e0000"/>
<rect x="581.90" y="507.11" width="21.70" height="6.88" fill="#8e0000"/>
<rect x="517.70" y="513.69" width="21.70" height="6.88" fill="#6e0000"/>
<rect x="539.10" y="513.69" width="21.70" height="6.88" fill="#8e0000"/>
<rect x="560.50" y="513.69" width="11.00" height="6.88" fill="#ae0000"/>
<rect x="571.20" y="513.69" width="11.00" height="6.88" fill="#8e0000"/>
<rect x="581.90" y="513.69" width="11.00" height="6.88" fill="#ae0000"/>
<rect x="592.60" y="513.69" width="11.00" height="6.88" fill="#8e0000"/>
<rect x="517.70" y="520.27" width="11.00" height="6.88" fill="#4e0000"/>
<rect x="528.40" y="520.27" width="11.00" height="6.88" fill="#3c0000"/>
<rect x="539.10" y="520.27" width="11.00" height="6.88" fill="#2c0000"/>
<rect x="549.80" y="520.27" width="11.00" height="6.88" fill="#3c0000"/>
<rect x="560.50" y="520.27" width="11.00" height="6.88" fill="#6e0000"/>
<rect x="571.20" y="520.27" width="11.00" height="6.88" fill="#4e0000"/>
<rect x="581.90" y="520.27" width="21.70" height="6.88" fill="#6e0000"/>
<rect x="517.70" y="526.84" width="11.00" height="6.88" fill="#3c0000"/>
<rect x="528.40" y="526.84" width="11.00" height="6.88" fill="#2c0000"/>
<rect x="539.10" y="526.84" width="21.70" height="6.88" fill="#3c0000"/>
<rect x="560.50" y="526.84" width="43.10" height="6.88" fill="#0b0a04"/>
<rect x="517.70" y="533.42" width="11.00" height="6.88" fill="#e80000"/>
<rect x="528.40" y="533.42" width="11.00" height="6.88" fill="#ae0000"/>
<rect x="539.10" y="533.42" width="21.70" height="6.88" fill="#e80000"/>
<rect x="560.50" y="533.42" width="43.10" height="6.88" fill="#ae0000"/>
</g>
<g class="sn" font-size="6.0" fill="#000" stroke="#000" stroke-width="0.1" text-anchor="end">
<text x="691.4" y="125.09" textLength="75.5" lengthAdjust="spacingAndGlyphs">mmu-miR-300-5p</text>
<text x="691.4" y="131.67" textLength="72.2" lengthAdjust="spacingAndGlyphs">mmu-miR-3473e</text>
<text x="691.4" y="138.25" textLength="80.8" lengthAdjust="spacingAndGlyphs">mmu-miR-6963-5p</text>
<text x="691.4" y="144.82" textLength="61.3" lengthAdjust="spacingAndGlyphs">mmu-miR-8119</text>
<text x="691.4" y="151.40" textLength="66.8" lengthAdjust="spacingAndGlyphs">mmu-miR-6394</text>
<text x="691.4" y="157.98" textLength="80.8" lengthAdjust="spacingAndGlyphs">mmu-miR-6965-5p</text>
<text x="691.4" y="164.56" textLength="80.8" lengthAdjust="spacingAndGlyphs">mmu-miR-7050-5p</text>
<text x="691.4" y="171.14" textLength="80.8" lengthAdjust="spacingAndGlyphs">mmu-miR-6987-5p</text>
<text x="691.4" y="177.71" textLength="75.5" lengthAdjust="spacingAndGlyphs">mmu-miR-30e-5p</text>
<text x="691.4" y="184.29" textLength="75.5" lengthAdjust="spacingAndGlyphs">mmu-miR-30a-5p</text>
<text x="691.4" y="190.87" textLength="61.3" lengthAdjust="spacingAndGlyphs">mmu-miR-5119</text>
<text x="691.4" y="197.45" textLength="66.8" lengthAdjust="spacingAndGlyphs">mmu-miR-6378</text>
<text x="691.4" y="204.03" textLength="59.0" lengthAdjust="spacingAndGlyphs">mmu-miR-710</text>
<text x="691.4" y="210.60" textLength="78.4" lengthAdjust="spacingAndGlyphs">mmu-miR-125a-3p</text>
<text x="691.4" y="217.18" textLength="76.0" lengthAdjust="spacingAndGlyphs">mmu-miR-101a-3p</text>
<text x="691.4" y="223.76" textLength="80.8" lengthAdjust="spacingAndGlyphs">mmu-miR-497a-5p</text>
<text x="691.4" y="230.34" textLength="80.8" lengthAdjust="spacingAndGlyphs">mmu-miR-7039-5p</text>
<text x="691.4" y="236.92" textLength="80.8" lengthAdjust="spacingAndGlyphs">mmu-miR-6392-3p</text>
<text x="691.4" y="243.50" textLength="75.5" lengthAdjust="spacingAndGlyphs">mmu-miR-370-3p</text>
<text x="691.4" y="250.07" textLength="80.8" lengthAdjust="spacingAndGlyphs">mmu-miR-6944-5p</text>
<text x="691.4" y="256.65" textLength="78.4" lengthAdjust="spacingAndGlyphs">mmu-miR-199a-3p</text>
<text x="691.4" y="263.23" textLength="73.1" lengthAdjust="spacingAndGlyphs">mmu-miR-712-5p</text>
<text x="691.4" y="269.81" textLength="78.4" lengthAdjust="spacingAndGlyphs">mmu-miR-126a-3p</text>
<text x="691.4" y="276.39" textLength="80.8" lengthAdjust="spacingAndGlyphs">mmu-miR-7672-5p</text>
<text x="691.4" y="282.96" textLength="66.8" lengthAdjust="spacingAndGlyphs">mmu-miR-6349</text>
<text x="691.4" y="289.54" textLength="75.5" lengthAdjust="spacingAndGlyphs">mmu-miR-27b-3p</text>
<text x="691.4" y="296.12" textLength="80.8" lengthAdjust="spacingAndGlyphs">mmu-miR-6898-5p</text>
<text x="691.4" y="302.70" textLength="78.4" lengthAdjust="spacingAndGlyphs">mmu-miR-3081-5p</text>
<text x="691.4" y="309.28" textLength="73.1" lengthAdjust="spacingAndGlyphs">mmu-miR-188-5p</text>
<text x="691.4" y="315.85" textLength="73.1" lengthAdjust="spacingAndGlyphs">mmu-miR-149-3p</text>
<text x="691.4" y="322.43" textLength="62.0" lengthAdjust="spacingAndGlyphs">mmu-miR-5131</text>
<text x="691.4" y="329.01" textLength="64.4" lengthAdjust="spacingAndGlyphs">mmu-miR-1904</text>
<text x="691.4" y="335.59" textLength="80.8" lengthAdjust="spacingAndGlyphs">mmu-miR-6969-5p</text>
<text x="691.4" y="342.17" textLength="80.8" lengthAdjust="spacingAndGlyphs">mmu-miR-7005-5p</text>
<text x="691.4" y="348.75" textLength="64.4" lengthAdjust="spacingAndGlyphs">mmu-miR-3154</text>
<text x="691.4" y="355.32" textLength="66.8" lengthAdjust="spacingAndGlyphs">mmu-miR-6369</text>
<text x="691.4" y="361.90" textLength="80.8" lengthAdjust="spacingAndGlyphs">mmu-miR-7045-5p</text>
<text x="691.4" y="368.48" textLength="66.8" lengthAdjust="spacingAndGlyphs">mmu-miR-6370</text>
<text x="691.4" y="375.06" textLength="61.4" lengthAdjust="spacingAndGlyphs">mmu-miR-680</text>
<text x="691.4" y="381.64" textLength="66.8" lengthAdjust="spacingAndGlyphs">mmu-miR-6366</text>
<text x="691.4" y="388.21" textLength="80.8" lengthAdjust="spacingAndGlyphs">mmu-miR-5622-3p</text>
<text x="691.4" y="394.79" textLength="70.1" lengthAdjust="spacingAndGlyphs">mmu-miR-93-5p</text>
<text x="691.4" y="401.37" textLength="78.4" lengthAdjust="spacingAndGlyphs">mmu-miR-106b-5p</text>
<text x="691.4" y="407.95" textLength="61.5" lengthAdjust="spacingAndGlyphs">mmu-miR-101c</text>
<text x="691.4" y="414.53" textLength="64.4" lengthAdjust="spacingAndGlyphs">mmu-miR-1892</text>
<text x="691.4" y="421.10" textLength="78.4" lengthAdjust="spacingAndGlyphs">mmu-miR-7241-3p</text>
<text x="691.4" y="427.68" textLength="80.8" lengthAdjust="spacingAndGlyphs">mmu-miR-6908-5p</text>
<text x="691.4" y="434.26" textLength="86.2" lengthAdjust="spacingAndGlyphs">mmu-miR-7036a-5p</text>
<text x="691.4" y="440.84" textLength="64.4" lengthAdjust="spacingAndGlyphs">mmu-miR-2137</text>
<text x="691.4" y="447.42" textLength="86.2" lengthAdjust="spacingAndGlyphs">mmu-miR-6769b-5p</text>
<text x="691.4" y="454.00" textLength="73.1" lengthAdjust="spacingAndGlyphs">mmu-miR-143-3p</text>
<text x="691.4" y="460.57" textLength="64.4" lengthAdjust="spacingAndGlyphs">mmu-miR-8105</text>
<text x="691.4" y="467.15" textLength="72.2" lengthAdjust="spacingAndGlyphs">mmu-miR-3473b</text>
<text x="691.4" y="473.73" textLength="75.5" lengthAdjust="spacingAndGlyphs">mmu-miR-452-5p</text>
<text x="691.4" y="480.31" textLength="80.8" lengthAdjust="spacingAndGlyphs">mmu-miR-208a-5p</text>
<text x="691.4" y="486.89" textLength="75.3" lengthAdjust="spacingAndGlyphs">mmu-miR-7118-5p</text>
<text x="691.4" y="493.46" textLength="80.8" lengthAdjust="spacingAndGlyphs">mmu-miR-7088-5p</text>
<text x="691.4" y="500.04" textLength="80.8" lengthAdjust="spacingAndGlyphs">mmu-miR-6995-5p</text>
<text x="691.4" y="506.62" textLength="64.4" lengthAdjust="spacingAndGlyphs">mmu-miR-5100</text>
<text x="691.4" y="513.20" textLength="61.3" lengthAdjust="spacingAndGlyphs">mmu-miR-5112</text>
<text x="691.4" y="519.78" textLength="64.4" lengthAdjust="spacingAndGlyphs">mmu-miR-2861</text>
<text x="691.4" y="526.35" textLength="59.0" lengthAdjust="spacingAndGlyphs">mmu-miR-721</text>
<text x="691.4" y="532.93" textLength="73.1" lengthAdjust="spacingAndGlyphs">mmu-miR-215-5p</text>
<text x="691.4" y="539.51" textLength="75.5" lengthAdjust="spacingAndGlyphs">mmu-miR-23a-3p</text>
</g>
<path d="M691.6 122.3 H704.6 M691.6 128.9 H704.6 M704.6 122.3 V128.9 M704.6 125.6 H709.5 M691.6 135.4 H695.7 M695.7 135.4 V135.4 M691.6 142.0 H696.5 M691.6 148.6 H696.5 M696.5 142.0 V148.6 M695.7 135.4 H698.5 M696.5 145.3 H698.5 M698.5 135.4 V145.3 M691.6 155.2 H696.3 M691.6 161.8 H696.3 M696.3 155.2 V161.8 M698.5 140.4 H700.3 M696.3 158.5 H700.3 M700.3 140.4 V158.5 M700.3 149.4 H702.6 M691.6 168.3 H702.6 M702.6 149.4 V168.3 M702.6 158.9 V290.0 M702.6 290.0 H709.5 M709.5 125.6 V400.0 M691.6 174.9 H694.8 M691.6 181.5 H694.8 M694.8 174.9 V181.5 M691.6 188.1 H694.8 M691.6 194.6 H694.8 M694.8 188.1 V194.6 M691.6 201.2 H694.8 M691.6 207.8 H694.8 M694.8 201.2 V207.8 M691.6 214.4 H694.8 M691.6 221.0 H694.8 M694.8 214.4 V221.0 M691.6 227.5 H694.8 M691.6 234.1 H694.8 M694.8 227.5 V234.1 M691.6 240.7 H694.8 M691.6 247.3 H694.8 M694.8 240.7 V247.3 M691.6 253.9 H694.8 M691.6 260.4 H694.8 M694.8 253.9 V260.4 M694.8 178.2 H696.6 M694.8 191.4 H696.6 M696.6 178.2 V191.4 M694.8 204.5 H696.6 M694.8 217.7 H696.6 M696.6 204.5 V217.7 M694.8 230.8 H696.6 M694.8 244.0 H696.6 M696.6 230.8 V244.0 M694.8 257.1 H696.6 M691.6 267.0 H696.6 M696.6 257.1 V267.0 M696.6 184.8 H698.7 M696.6 211.1 H698.7 M696.6 237.4 H698.7 M696.6 262.1 H698.7 M698.7 184.8 V262.1 M691.6 273.6 H695.0 M691.6 280.2 H695.0 M695.0 273.6 V280.2 M691.6 286.7 H695.0 M691.6 293.3 H695.0 M695.0 286.7 V293.3 M691.6 299.9 H695.0 M691.6 306.5 H695.0 M695.0 299.9 V306.5 M691.6 313.1 H695.0 M691.6 319.6 H695.0 M695.0 313.1 V319.6 M695.0 276.9 H697.2 M695.0 290.0 H697.2 M697.2 276.9 V290.0 M695.0 303.2 H697.2 M695.0 316.3 H697.2 M697.2 303.2 V316.3 M697.2 283.5 H699.6 M697.2 309.8 H699.6 M691.6 326.2 H699.6 M699.6 283.5 V326.2 M691.6 332.8 H694.6 M691.6 339.4 H694.6 M694.6 332.8 V339.4 M691.6 345.9 H694.6 M691.6 352.5 H694.6 M694.6 345.9 V352.5 M691.6 359.1 H694.6 M691.6 365.7 H694.6 M694.6 359.1 V365.7 M691.6 372.3 H694.6 M691.6 378.8 H694.6 M694.6 372.3 V378.8 M694.6 336.1 H696.4 M694.6 349.2 H696.4 M696.4 336.1 V349.2 M694.6 362.4 H696.4 M694.6 375.5 H696.4 M696.4 362.4 V375.5 M696.4 342.7 H698.2 M696.4 369.0 H698.2 M698.2 342.7 V369.0 M691.6 385.4 H695.6 M691.6 392.0 H695.6 M695.6 385.4 V392.0 M691.6 398.6 H695.6 M691.6 405.1 H695.6 M695.6 398.6 V405.1 M691.6 411.7 H695.6 M691.6 418.3 H695.6 M695.6 411.7 V418.3 M691.6 424.9 H695.6 M691.6 431.5 H695.6 M695.6 424.9 V431.5 M691.6 438.0 H695.6 M691.6 444.6 H695.6 M695.6 438.0 V444.6 M695.6 388.7 H698.0 M695.6 401.9 H698.0 M698.0 388.7 V401.9 M695.6 415.0 H698.0 M695.6 428.2 H698.0 M698.0 415.0 V428.2 M698.0 395.3 H700.4 M698.0 421.6 H700.4 M695.6 441.3 H700.4 M700.4 395.3 V441.3 M691.6 451.2 H695.6 M691.6 457.8 H695.6 M695.6 451.2 V457.8 M691.6 464.4 H695.6 M691.6 470.9 H695.6 M695.6 464.4 V470.9 M691.6 477.5 H695.6 M691.6 484.1 H695.6 M695.6 477.5 V484.1 M691.6 490.7 H695.6 M691.6 497.2 H695.6 M695.6 490.7 V497.2 M695.6 454.5 H698.0 M695.6 467.6 H698.0 M698.0 454.5 V467.6 M695.6 480.8 H698.0 M695.6 494.0 H698.0 M698.0 480.8 V494.0 M698.0 461.1 H700.6 M698.0 487.4 H700.6 M700.6 461.1 V487.4 M691.6 503.8 H695.0 M691.6 510.4 H695.0 M695.0 503.8 V510.4 M695.0 507.1 H699.5 M691.6 517.0 H699.5 M699.5 507.1 V517.0 M699.5 512.0 H702.0 M702.0 512.0 V512.0 M698.7 223.4 H702.0 M699.6 304.8 H702.0 M702.0 223.4 V304.8 M698.2 355.8 H703.8 M700.4 418.3 H703.8 M703.8 355.8 V418.3 M702.0 264.1 H706.0 M703.8 387.1 H706.0 M706.0 264.1 V387.1 M706.0 325.6 H709.5 M700.6 474.2 H707.7 M702.0 512.0 H707.7 M707.7 474.2 V512.0 M710.8 400.0 V511.0 M707.7 511.0 H710.8 M709.5 400.0 H710.8 M709.5 263.0 H717.3 M717.3 263.0 V523.6 M691.6 523.6 H717.3 M717.3 394.2 H757.2 M757.2 394.2 V532.0 M691.6 530.1 H696.8 M691.6 536.7 H696.8 M696.8 530.1 V536.7 M696.8 532.0 H757.2" stroke="#262626" stroke-width="0.85" fill="none"/>
</g>
</svg>
</body></html>
